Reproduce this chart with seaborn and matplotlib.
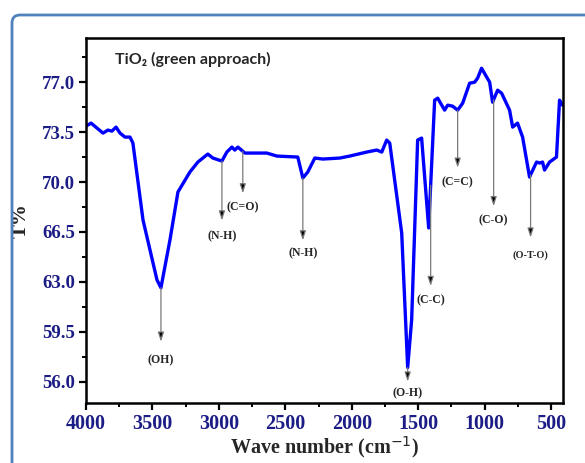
import numpy as np
import pandas as pd
import matplotlib
matplotlib.use("Agg")
import matplotlib.pyplot as plt
import seaborn as sns
from matplotlib.patches import FancyBboxPatch
from matplotlib.ticker import MultipleLocator, FormatStrFormatter

# FTIR spectrum
wavenumber = [4000, 3962, 3872, 3835, 3805, 3774, 3744, 3707, 3669, 3647,
              3571, 3466, 3436, 3368, 3308, 3218, 3158, 3083, 3045, 2977,
              2940, 2902, 2880, 2857, 2804, 2767, 2639, 2564, 2406, 2368,
              2331, 2278, 2218, 2090, 2015, 1887, 1812, 1774, 1737, 1714,
              1624, 1579, 1549, 1504, 1474, 1421, 1376, 1353, 1301, 1278,
              1241, 1203, 1165, 1113, 1075, 1053, 1023, 962, 940, 902,
              872, 812, 789, 752, 714, 662, 609, 586, 564, 549,
              511, 459, 436, 414]
transmittance = [73.92, 74.13, 73.43, 73.64, 73.57, 73.85, 73.43, 73.15, 73.15, 72.73,
                 67.34, 63.14, 62.58, 65.94, 69.30, 70.70, 71.40, 71.96, 71.68, 71.47,
                 72.10, 72.45, 72.24, 72.45, 72.03, 72.03, 72.03, 71.82, 71.75, 70.28,
                 70.70, 71.68, 71.61, 71.68, 71.82, 72.10, 72.24, 72.10, 72.94, 72.73,
                 66.43, 56.99, 60.34, 72.94, 73.08, 66.78, 75.74, 75.88, 75.04, 75.39,
                 75.32, 75.04, 75.53, 76.93, 77.00, 77.28, 77.98, 77.00, 75.60, 76.44,
                 76.23, 75.04, 73.85, 74.13, 73.15, 70.35, 71.40, 71.33, 71.40, 70.84,
                 71.40, 71.75, 75.74, 75.39]

# band assignments: label, wavenumber, arrow end (T%), label (T%)
band_labels = ["(OH)", "(N-H)", "(C=O)", "(N-H)", "(O-H)", "(C-C)", "(C=C)", "(C-O)", "(O-T-O)"]
band_wn = [3436, 2977, 2820, 2368, 1579, 1406, 1203, 932, 654]
arrow_end = [58.8, 67.3, 69.2, 65.9, 56.0, 62.7, 71.0, 68.3, 66.1]
label_pos = [57.5, 66.2, 68.2, 65.0, 55.2, 61.7, 70.0, 67.3, 64.9]

df = pd.DataFrame({"wn": wavenumber, "T": transmittance})

sns.set_style("ticks")
fig = plt.figure(figsize=(5.85, 4.63), dpi=100)
ax = fig.add_axes([86 / 585, 1 - 403 / 463, (563 - 86) / 585, (403 - 38) / 463])

sns.lineplot(data=df, x="wn", y="T", ax=ax, color="#0000ff", lw=2.4, sort=False)

ax.set_xlim(4000, 410)
ax.set_ylim(54.5, 80.1)
ax.xaxis.set_major_locator(MultipleLocator(500))
ax.xaxis.set_minor_locator(MultipleLocator(250))
ax.set_yticks([56.0, 59.5, 63.0, 66.5, 70.0, 73.5, 77.0])
ax.yaxis.set_minor_locator(MultipleLocator(1.75))
ax.yaxis.set_major_formatter(FormatStrFormatter("%.1f"))

tick_col = "#1c1c86"
serif = ["Liberation Serif", "DejaVu Serif"]
ax.tick_params(which="major", direction="out", length=5, width=1.6,
               colors="black", labelcolor=tick_col, pad=3)
ax.tick_params(which="minor", direction="out", length=3, width=1.4, colors="black")
for lab in ax.get_xticklabels():
    lab.set_fontfamily(serif); lab.set_fontweight("bold"); lab.set_fontsize(14.5)
for lab in ax.get_yticklabels():
    lab.set_fontfamily(serif); lab.set_fontweight("bold"); lab.set_fontsize(13.5)

for s in ax.spines.values():
    s.set_linewidth(1.8)
    s.set_color("black")

ax.set_xlabel("Wave number (cm$^{-1}$)", fontsize=14.5, fontweight="bold",
              family=serif, labelpad=0)
ax.set_ylabel("T%", fontsize=15, fontweight="bold", family=serif, labelpad=8)

ax.text(0.061, 0.94, "TiO₂ (green approach)", transform=ax.transAxes,
        fontsize=11.5, fontweight="bold", family=["Lato", "DejaVu Sans"],
        va="center", ha="left")

curve_at = np.interp(band_wn, wavenumber[::-1], transmittance[::-1])
for lbl, wn, y0, y1, yl in zip(band_labels, band_wn, curve_at, arrow_end, label_pos):
    ax.annotate("", xy=(wn, y1), xytext=(wn, y0),
                arrowprops=dict(arrowstyle="-|>,head_length=0.55,head_width=0.18",
                                ec="#7a7a7a", fc="black", lw=0.9, shrinkA=0, shrinkB=0))
    ax.text(wn, yl, lbl, ha="center", va="center", family=serif,
            fontweight="bold", fontsize=7.5 if lbl == "(O-T-O)" else 8.5)

# rounded frame around the panel
frame = FancyBboxPatch((12, -40), 620, 463 - 15 + 40,
                       boxstyle="round,pad=0,rounding_size=8",
                       transform=None, fill=False, ec="#4f81bd", lw=2.0)
fig.patches.append(frame)

fig.savefig("out.png", dpi=100)
